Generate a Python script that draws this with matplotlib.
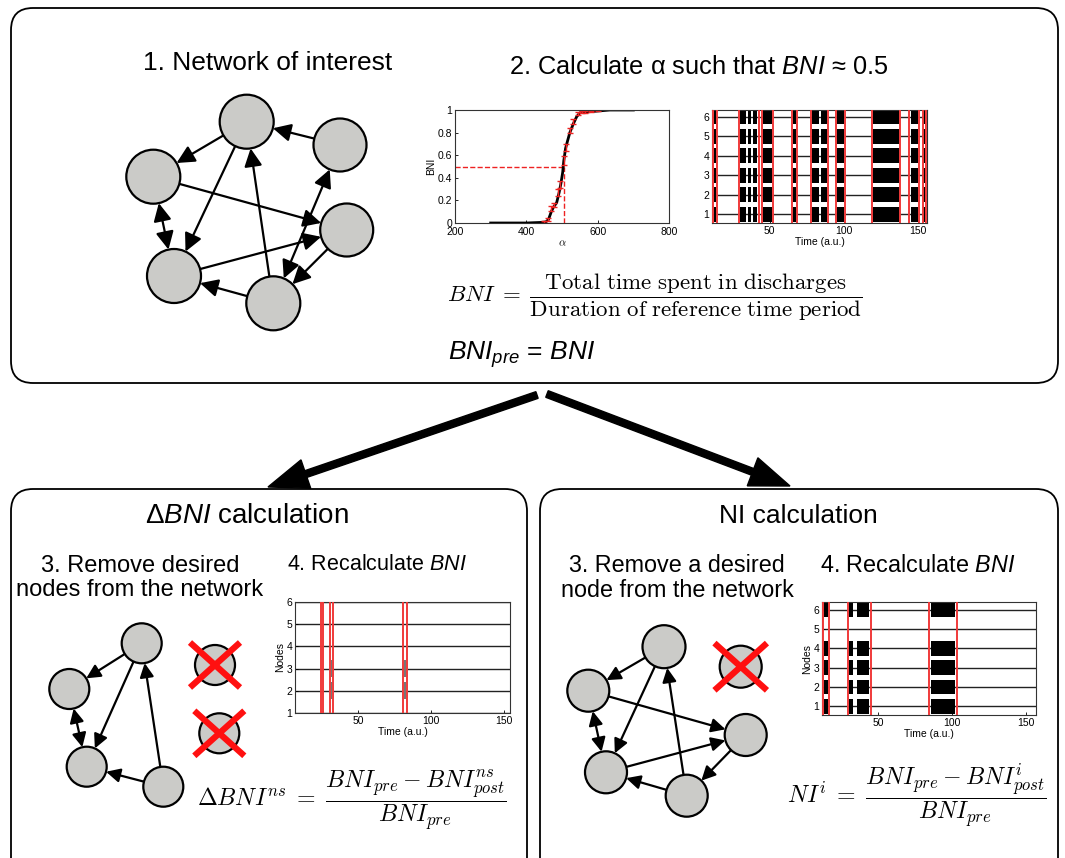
import math

import matplotlib
matplotlib.use("Agg")
import matplotlib.pyplot as plt
from matplotlib.patches import Circle, FancyBboxPatch, FancyArrowPatch

plt.rcParams["font.family"] = ["Liberation Sans", "DejaVu Sans"]
plt.rcParams["mathtext.fontset"] = "custom"
plt.rcParams["mathtext.rm"] = "Liberation Sans"
plt.rcParams["mathtext.it"] = "Liberation Sans:italic"

W, H = 1065, 858

# BNI as a function of the excitability parameter alpha
alpha = [300, 350, 400, 440, 455, 462, 470, 476, 485, 492, 497, 502, 505, 510,
         515, 522, 532, 541, 550, 560, 578, 597, 634, 700]
bni = [0.0, 0.0, 0.0, 0.005, 0.01, 0.03, 0.1, 0.14, 0.18, 0.27, 0.35, 0.45, 0.55,
       0.66, 0.72, 0.8, 0.88, 0.94, 0.975, 0.98, 0.985, 0.99, 1.0, 1.0]
err_alpha = [450, 462, 470, 478, 490, 495, 505, 512, 522, 532, 545, 555, 565, 580, 600]
err_bni = [0.01, 0.03, 0.13, 0.16, 0.27, 0.34, 0.55, 0.67, 0.82, 0.9, 0.97, 0.98,
           0.985, 0.99, 0.995]
err_sd = [0.01, 0.01, 0.02, 0.02, 0.03, 0.03, 0.04, 0.03, 0.02, 0.02, 0.01, 0.01,
          0.01, 0.005, 0.005]
alpha_star = 505
bni_target = 0.5

channels = [1, 2, 3, 4, 5, 6]

# discharge windows (red) and bursts (black) for the full network
full_windows = [(11.7, 14.4), (29.0, 42.5), (44.7, 52.1), (64.9, 68.3), (77.8, 89.0),
                (94.6, 100.4), (118.9, 138.0), (143.6, 150.8), (153.0, 155.5)]
full_bursts = [(12.2, 14.0), (29.7, 34.2), (35.1, 37.5), (38.7, 41.3), (45.4, 51.5),
               (65.4, 67.9), (78.4, 82.9), (84.7, 88.5), (95.3, 99.9), (119.6, 137.5),
               (145.2, 149.7), (153.5, 155.0)]

# after removing a set of nodes
ns_windows = [(24.7, 26.3), (30.8, 33.1), (81.0, 83.3)]
ns_bursts = [(25.2, 25.8), (31.4, 32.5), (81.6, 82.7)]
ns_channels = [2, 3]

# after removing a single node (node 5)
ni_windows = [(12.9, 16.5), (29.3, 45.1), (84.7, 103.2)]
ni_bursts = [(13.1, 15.8), (30.5, 33.0), (35.6, 43.6), (85.8, 102.3)]
ni_channels = [1, 2, 3, 4, 6]

fig = plt.figure(figsize=(W / 100, H / 100), dpi=100)
ax = fig.add_axes([0, 0, 1, 1])
ax.set_xlim(0, W)
ax.set_ylim(H, 0)
ax.axis("off")


def box(x0, y0, x1, y1):
    ax.add_patch(FancyBboxPatch((x0, y0), x1 - x0, y1 - y0,
                                boxstyle="round,pad=0,rounding_size=22",
                                fc="white", ec="black", lw=1.3))


box(11, 8, 1058, 383)
box(11, 489, 527, 880)
box(540, 489, 1058, 880)

# big flow arrows
for x0, y0, x1, y1 in [(537, 395, 268, 487), (547, 394, 790, 486)]:
    ax.arrow(x0, y0, x1 - x0, y1 - y0, width=7, head_width=30, head_length=40,
             length_includes_head=True, fc="black", ec="black")


def network(nodes, edges, removed, hscale):
    for a, b, both in edges:
        (xa, ya, ra), (xb, yb, rb) = nodes[a], nodes[b]
        d = math.hypot(xb - xa, yb - ya)
        ux, uy = (xb - xa) / d, (yb - ya) / d
        p0 = (xa + ux * ra, ya + uy * ra)
        p1 = (xb - ux * rb, yb - uy * rb)
        style = "<|-|>" if both else "-|>"
        ax.add_patch(FancyArrowPatch(p0, p1, arrowstyle=f"{style},head_length=0.6,head_width=0.3",
                                     mutation_scale=hscale, lw=1.6, color="black",
                                     shrinkA=0, shrinkB=0, zorder=2))
    for x, y, r in nodes.values():
        ax.add_patch(Circle((x, y), r, fc="#cbcbc8", ec="black", lw=1.6, zorder=3))
    for x, y, r in removed:
        ax.add_patch(Circle((x, y), r, fc="#cbcbc8", ec="black", lw=1.6, zorder=3))
        s = r * 1.25
        ax.plot([x - s, x + s], [y - s * 0.9, y + s * 0.9], color="#ff1010", lw=4.5,
                solid_capstyle="butt", zorder=4)
        ax.plot([x - s, x + s], [y + s * 0.9, y - s * 0.9], color="#ff1010", lw=4.5,
                solid_capstyle="butt", zorder=4)


top_nodes = {"A": (246.7, 121.7, 27), "B": (340, 145, 26.5), "C": (153.3, 176.7, 27),
             "D": (346.7, 230, 26.5), "E": (174, 276, 27), "F": (273.3, 303.3, 27)}
top_edges = [("A", "C", False), ("B", "A", False), ("A", "E", False), ("C", "E", True),
             ("C", "D", False), ("E", "D", False), ("F", "A", False), ("F", "B", True),
             ("D", "F", False), ("F", "E", False)]
network(top_nodes, top_edges, [], 18)

ns_nodes = {"A": (141.7, 643.3, 20), "C": (69.3, 689, 20), "E": (86.7, 766.7, 20),
            "F": (163.3, 786.7, 20)}
ns_edges = [("A", "C", False), ("A", "E", False), ("C", "E", True), ("F", "A", False),
            ("F", "E", False)]
network(ns_nodes, ns_edges, [(215, 665, 20), (219.3, 733.3, 20)], 14)

ni_nodes = {"A": (664, 646.7, 21.5), "C": (588.3, 690.7, 21), "D": (745.7, 735, 21),
            "E": (606, 772.3, 21), "F": (686.7, 795.7, 21)}
ni_edges = [("A", "C", False), ("A", "E", False), ("C", "E", True), ("C", "D", False),
            ("E", "D", False), ("F", "A", False), ("D", "F", False), ("F", "E", False)]
network(ni_nodes, ni_edges, [(740.7, 666.7, 21)], 14)

# headings and step labels
ax.text(268, 63, "1. Network of interest", ha="center", va="center", fontsize=19)
ax.text(699, 67, "2. Calculate α such that $BNI$ ≈ 0.5", ha="center", va="center",
        fontsize=18.3)
ax.text(655, 297, r"$BNI\;=\;\dfrac{\mathrm{Total\ time\ spent\ in\ discharges}}"
        r"{\mathrm{Duration\ of\ reference\ time\ period}}$",
        ha="center", va="center", fontsize=16.5, math_fontfamily="cm")
ax.text(448, 355, "$BNI_{pre}$ = $BNI$", ha="left", va="center", fontsize=19)

ax.text(247, 516, r"$\mathit{ΔBNI}$ calculation", ha="center", va="center", fontsize=20)
ax.text(798, 516, "NI calculation", ha="center", va="center", fontsize=19)
ax.text(140, 578, "3. Remove desired\nnodes from the network", ha="center", va="center",
        fontsize=17, linespacing=1.15)
ax.text(377, 565, "4. Recalculate $BNI$", ha="center", va="center", fontsize=15.5)
ax.text(677, 578, "3. Remove a desired\nnode from the network", ha="center", va="center",
        fontsize=16.8, linespacing=1.15)
ax.text(918, 565, "4. Recalculate $BNI$", ha="center", va="center", fontsize=16.8)

ax.text(352, 800, r"$\Delta BNI^{ns}\;=\;\dfrac{BNI_{pre} - BNI^{ns}_{post}}{BNI_{pre}}$",
        ha="center", va="center", fontsize=17.2, math_fontfamily="cm")
ax.text(917, 795, r"$NI^{i}\;=\;\dfrac{BNI_{pre} - BNI^{i}_{post}}{BNI_{pre}}$",
        ha="center", va="center", fontsize=17.2, math_fontfamily="cm")


def px_axes(x0, y0, x1, y1):
    a = fig.add_axes([x0 / W, 1 - y1 / H, (x1 - x0) / W, (y1 - y0) / H])
    a.tick_params(direction="in", labelsize=7.5, length=2, width=0.6, pad=2)
    for s in a.spines.values():
        s.set_linewidth(0.8)
        s.set_color("#333333")
    return a


# BNI vs alpha
sa = px_axes(455, 110, 669, 223)
sa.plot([200, alpha_star], [bni_target, bni_target], ls="--", color="#ee2222", lw=1)
sa.plot([alpha_star, alpha_star], [0, bni_target], ls="--", color="#ee2222", lw=1)
sa.plot(alpha, bni, color="black", lw=2)
sa.errorbar(err_alpha, err_bni, yerr=err_sd, fmt="none", ecolor="#ee2222", elinewidth=1,
            capsize=2)
sa.set_xlim(200, 800)
sa.set_ylim(0, 1)
sa.set_xticks([200, 400, 600, 800])
sa.set_yticks([0, 0.2, 0.4, 0.6, 0.8, 1])
sa.set_yticklabels(["0", "0.2", "0.4", "0.6", "0.8", "1"])
sa.tick_params(axis="x", pad=3)
sa.set_xlabel(r"$\alpha$", fontsize=8, math_fontfamily="cm", labelpad=1)
sa.set_ylabel("BNI", fontsize=7.5, labelpad=1)


def raster(a, windows, bursts, active, shade, xlim, ylim, ylabel):
    for ch in channels:
        a.axhline(ch, color="#222222", lw=1.0, zorder=1)
        if ch in active:
            a.broken_barh([(s, e - s) for s, e in bursts], (ch - 0.38, 0.76),
                          facecolors=shade, zorder=2)
    for s, e in windows:
        a.axvline(s, color="#f03a3a", lw=1.4, zorder=3)
        a.axvline(e, color="#f03a3a", lw=1.4, zorder=3)
    a.set_xlim(*xlim)
    a.set_ylim(*ylim)
    a.set_xticks([50, 100, 150])
    a.set_yticks(channels)
    a.set_xlabel("Time (a.u.)", fontsize=7.5, labelpad=1)
    if ylabel:
        a.set_ylabel("Nodes", fontsize=7.5, labelpad=1)


ra = px_axes(712, 110, 927, 223)
raster(ra, full_windows, full_bursts, channels, "black", (11, 156), (0.55, 6.35), False)

rb = px_axes(295, 602, 510, 713)
raster(rb, ns_windows, ns_bursts, ns_channels, "#777777", (7, 154), (1, 6), True)

rc = px_axes(822, 602, 1036, 715)
raster(rc, ni_windows, ni_bursts, ni_channels, "black", (12, 157), (0.56, 6.39), True)

fig.savefig("out.png", dpi=100)
